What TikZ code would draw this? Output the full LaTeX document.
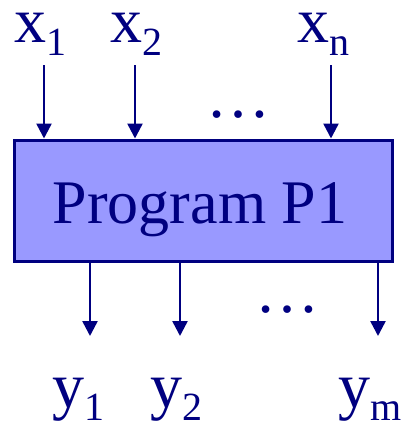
\documentclass[tikz,border=0pt]{standalone}
\usepackage{fontspec}
\setmainfont{Liberation Serif}
\usetikzlibrary{arrows.meta}
\definecolor{navy}{RGB}{0,0,128}
\definecolor{boxfill}{RGB}{153,153,255}
\newcommand{\lbl}[2]{{\fontsize{64}{64}\selectfont #1}\raisebox{-13pt}{\fontsize{40}{40}\selectfont #2}}
\begin{document}
\begin{tikzpicture}[x=1pt,y=-1pt,
  arr/.style={draw=navy,line width=2.5pt,-{Triangle[width=15pt,length=15pt]}},
  lab/.style={anchor=base west,inner sep=0pt,text=navy,text height=32pt,text depth=15pt},
  dotsn/.style={anchor=base west,inner sep=0pt,text=navy,font=\fontsize{64}{64}\selectfont}]
\useasboundingbox (0,0) rectangle (403,426);
\node[draw=navy,line width=3pt,fill=boxfill,minimum width=378pt,minimum height=121pt,inner sep=0pt] (box) at (203,200.5) {};
\node[anchor=base,inner sep=0pt,text=navy,font=\fontsize{62}{62}\selectfont] (title) at (200,223) {Program P1};
% inputs
\node[lab] (x1) at (14,42) {\lbl{x}{1}};
\node[lab] (x2) at (110,42) {\lbl{x}{2}};
\node[lab] (xn) at (297,42) {\lbl{x}{n}};
\coordinate (i1) at (44,65);
\coordinate (i2) at (135,65);
\coordinate (in) at (331,65);
\draw[arr] (i1) -- (i1 |- box.north);
\draw[arr] (i2) -- (i2 |- box.north);
\draw[arr] (in) -- (in |- box.north);
\node[dotsn] (d1) at (206,117) {…};
% outputs
\coordinate (o1) at (90,336);
\coordinate (o2) at (180,336);
\coordinate (om) at (378,336);
\draw[arr] (o1 |- box.south) -- (o1);
\draw[arr] (o2 |- box.south) -- (o2);
\draw[arr] (om |- box.south) -- (om);
\node[dotsn] (d2) at (255,312) {…};
\node[lab] (y1) at (52,407) {\lbl{y}{1}};
\node[lab] (y2) at (150,407) {\lbl{y}{2}};
\node[lab] (ym) at (338,407) {\lbl{y}{m}};
\end{tikzpicture}
\end{document}
